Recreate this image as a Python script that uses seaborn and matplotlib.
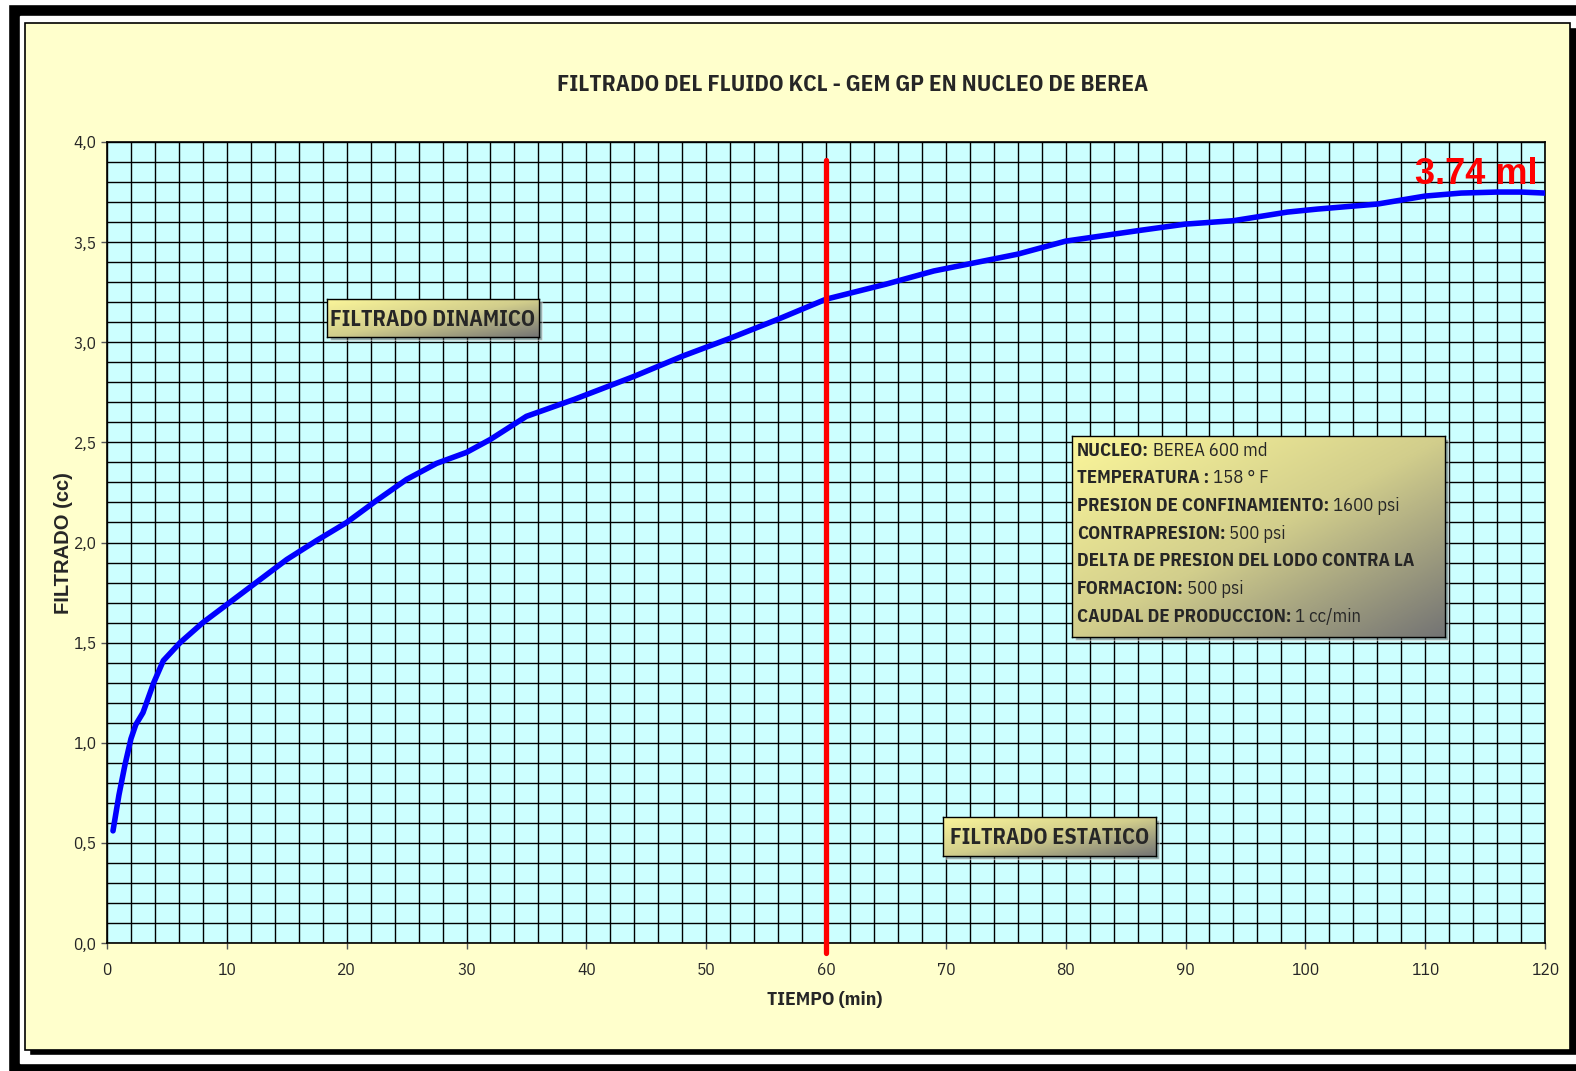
import matplotlib
matplotlib.use('Agg')
import matplotlib.pyplot as plt
import seaborn as sns
import numpy as np
from matplotlib.patches import Rectangle
from matplotlib.ticker import MultipleLocator, FixedLocator
from matplotlib.colors import LinearSegmentedColormap

# -----------data-----------------------------------
tiempo = [0.5, 1.0, 1.5, 2.0, 2.4, 3.0, 3.9, 4.7, 6.1, 8.0, 10.0, 12.0, 15.0, 17.5,
          20.0, 22.5, 25.0, 27.5, 30.0, 32.0, 35.0, 39.0, 44.0, 48.0, 52.0, 56.0,
          60.0, 65.0, 69.0, 76.0, 80.0, 86.0, 90.0, 94.0, 98.5, 101.0, 106.0, 110.0,
          113.0, 116.0, 118.0, 120.0]
filtrado = [0.56, 0.74, 0.89, 1.02, 1.09, 1.15, 1.30, 1.41, 1.50, 1.60, 1.69, 1.78,
            1.915, 2.01, 2.10, 2.21, 2.315, 2.395, 2.45, 2.515, 2.63, 2.715, 2.83,
            2.93, 3.02, 3.115, 3.215, 3.29, 3.356, 3.44, 3.505, 3.557, 3.59, 3.607,
            3.65, 3.665, 3.69, 3.73, 3.745, 3.75, 3.75, 3.745]

x_ticks = [0, 10, 20, 30, 40, 50, 60, 70, 80, 90, 100, 110, 120]
y_ticks = [0.0, 0.5, 1.0, 1.5, 2.0, 2.5, 3.0, 3.5, 4.0]
y_tick_labels = ['0,0', '0,5', '1,0', '1,5', '2,0', '2,5', '3,0', '3,5', '4,0']

corte_min = 60
valor_final = '3.74 ml'
titulo = 'FILTRADO DEL FLUIDO KCL - GEM GP EN NUCLEO DE BEREA'

info_labels = ['NUCLEO:', 'TEMPERATURA :', 'PRESION DE CONFINAMIENTO:', 'CONTRAPRESION:',
               'DELTA DE PRESION DEL LODO CONTRA LA', 'FORMACION:', 'CAUDAL DE PRODUCCION:']
info_values = [' BEREA 600 md', ' 158 \u00b0 F', ' 1600 psi', ' 500 psi', '',
               ' 500 psi', ' 1 cc/min']

# -----------style---------------
W, H = 1576, 1071
sns.set_style('white')
NARROW = ['IBM Plex Sans Condensed', 'Liberation Sans', 'DejaVu Sans']
ARIAL = ['Liberation Sans', 'DejaVu Sans']
plt.rcParams['font.family'] = NARROW

fig = plt.figure(figsize=(W / 100, H / 100), dpi=100, facecolor='white')


def frac(x0, y0, x1, y1):
    # pixel box (top-left origin) -> figure fraction [l, b, w, h]
    return [x0 / W, 1 - y1 / H, (x1 - x0) / W, (y1 - y0) / H]


def fig_rect(x0, y0, x1, y1, **kw):
    l, b, w, h = frac(x0, y0, x1, y1)
    fig.patches.append(Rectangle((l, b), w, h, transform=fig.transFigure,
                                 figure=fig, **kw))


# frame around the chart
fig_rect(8, 4, 1590, 1085, facecolor='black', zorder=-10)
fig_rect(20, 16, 1590, 1063, facecolor='white', zorder=-9)
fig_rect(29, 27, 1590, 1055, facecolor='black', zorder=-8)
fig_rect(25, 23, 1570, 1050, facecolor='#FFFFCC', edgecolor='black', lw=1.2, zorder=-7)

# -----------main plot---------------
ax = fig.add_axes(frac(107, 142, 1545, 943))
ax.set_facecolor('#CCFFFF')

sns.lineplot(x=tiempo, y=filtrado, ax=ax, color='#0000FF', linewidth=4.0,
             sort=False, solid_capstyle='round', solid_joinstyle='round', zorder=3)
ax.axvline(corte_min, ymin=-0.0125, ymax=0.978, color='#FF0000', lw=3.8,
           clip_on=False, zorder=4)

ax.set_xlim(0, 120)
ax.set_ylim(0, 4)
ax.xaxis.set_major_locator(FixedLocator(x_ticks))
ax.xaxis.set_minor_locator(MultipleLocator(2))
ax.set_yticks(y_ticks)
ax.set_yticklabels(y_tick_labels)
ax.yaxis.set_minor_locator(MultipleLocator(0.1))
ax.grid(which='both', color='black', lw=1.0)
ax.set_axisbelow(True)
ax.tick_params(which='major', length=4.5, width=1, color='#555555', labelsize=12.5,
               direction='out', bottom=True, left=True)
ax.tick_params(axis='x', pad=9)
ax.tick_params(axis='y', pad=3)
ax.tick_params(which='minor', length=0)
for s in ax.spines.values():
    s.set_color('black')
    s.set_linewidth(1.2)
ax.set_xlabel('')
ax.set_ylabel('')

ax.text(119.4, 3.79, valor_final, color='#FF0000', fontsize=26, fontweight='bold',
        family=ARIAL, ha='right', va='baseline', zorder=5)

fig.text(853 / W, 1 - 85 / H, titulo, ha='center', va='center', fontsize=16.6,
         fontweight='bold')
fig.text(825 / W, 1 - 1000 / H, 'TIEMPO (min)', ha='center', va='center',
         fontsize=14, fontweight='bold')
fig.text(63.5 / W, 1 - 543 / H, 'FILTRADO (cc)', rotation=90, ha='center',
         va='center', fontsize=14.5, fontweight='bold', family=ARIAL)

# -----------gradient boxes---------------
cmap = LinearSegmentedColormap.from_list('caja', ['#FBF69A', '#D2CE8C', '#747474'])
gy, gx = np.mgrid[0:1:100j, 0:1:200j]
grad = (gx + gy) / 2


def gradient_box(x0, y0, x1, y1):
    fig_rect(x0 + 3, y0 + 3, x1 + 3, y1 + 3, facecolor='#444444', alpha=0.45, zorder=5)
    bax = fig.add_axes(frac(x0, y0, x1, y1))
    bax.set_zorder(6)
    bax.imshow(grad, cmap=cmap, aspect='auto', extent=[0, 1, 0, 1],
               interpolation='bilinear')
    bax.set_xticks([])
    bax.set_yticks([])
    for s in bax.spines.values():
        s.set_color('black')
        s.set_linewidth(1.0)
    return bax


b1 = gradient_box(327, 299, 539, 337)
b1.text(0.5, 0.47, 'FILTRADO DINAMICO', transform=b1.transAxes, ha='center',
        va='center', fontsize=15.8, fontweight='bold')

b2 = gradient_box(943, 817, 1156, 856)
b2.text(0.5, 0.47, 'FILTRADO ESTATICO', transform=b2.transAxes, ha='center',
        va='center', fontsize=15.8, fontweight='bold')

b3 = gradient_box(1072, 436, 1445, 637)
for i, (lab, val) in enumerate(zip(info_labels, info_values)):
    yc = 450.7 + 27.7 * i
    t = b3.text(4.7 / 373, 1 - (yc - 436) / 201, lab, transform=b3.transAxes,
                ha='left', va='center', fontsize=13.4, fontweight='bold')
    if val:
        b3.annotate(val, xy=(1, 0), xycoords=t, ha='left', va='bottom',
                    fontsize=13.4)

fig.savefig('out.png', dpi=100, facecolor=fig.get_facecolor())
